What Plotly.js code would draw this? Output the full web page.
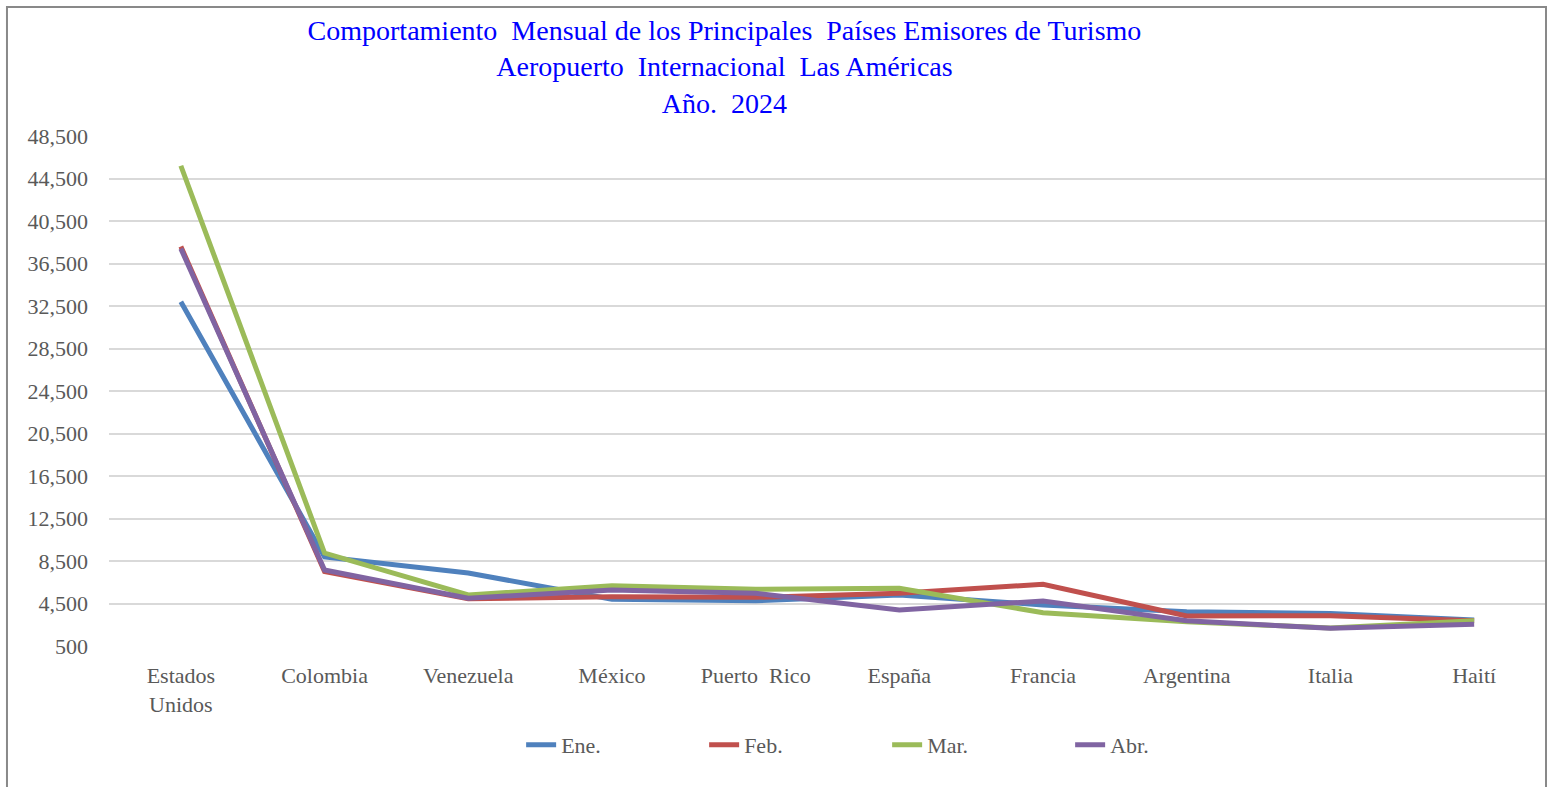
<!DOCTYPE html>
<html>
<head>
<meta charset="utf-8">
<script src="https://cdn.plot.ly/plotly-3.0.1.min.js"></script>
<style>
  html, body { margin: 0; padding: 0; background: #fff; }
  #plot { width: 1552px; height: 787px; }
</style>
</head>
<body>
<div id="plot"></div>
<script>
var paises = ['Estados<br>Unidos', 'Colombia', 'Venezuela', 'México', 'Puerto\u00a0\u00a0Rico',
  'España', 'Francia', 'Argentina', 'Italia', 'Haití'];

var ene = [32900, 8880, 7370, 4900, 4760, 5300, 4360, 3730, 3570, 2950];
var feb = [38100, 7500, 4950, 5140, 5080, 5460, 6310, 3320, 3350, 2880];
var mar = [45700, 9250, 5300, 6170, 5840, 5930, 3630, 2790, 2200, 2880];
var abr = [37900, 7650, 5000, 5770, 5460, 3890, 4740, 2880, 2160, 2540];

var serif = "'Liberation Serif', 'Times New Roman', serif";

function serie(nombre, valores, color) {
  return {
    x: paises,
    y: valores,
    mode: 'lines',
    type: 'scatter',
    name: nombre,
    line: { color: color, width: 5 }
  };
}

var data = [
  serie('Ene.', ene, '#4F81BD'),
  serie('Feb.', feb, '#C0504D'),
  serie('Mar.', mar, '#9BBB59'),
  serie('Abr.', abr, '#8064A2')
];

var layout = {
  width: 1552,
  height: 787,
  margin: { l: 109, r: 6, t: 136, b: 141 },
  paper_bgcolor: '#ffffff',
  plot_bgcolor: '#ffffff',
  title: {
    text: 'Comportamiento\u00a0\u00a0Mensual de los Principales\u00a0\u00a0Países Emisores de Turismo<br>' +
          'Aeropuerto\u00a0\u00a0Internacional\u00a0\u00a0Las Américas<br>Año.\u00a0\u00a02024',
    font: { family: serif, size: 28, color: '#0000FF' },
    xref: 'container', x: 0.4668, xanchor: 'center',
    yref: 'container', y: 1 - 40 / 787, yanchor: 'middle'
  },
  xaxis: {
    type: 'category',
    range: [-0.5, 9.5],
    showgrid: false,
    showline: false,
    zeroline: false,
    ticks: '',
    ticklabelstandoff: 14,
    tickfont: { family: serif, size: 22, color: '#595959' }
  },
  yaxis: {
    range: [500, 48500],
    tickmode: 'linear',
    tick0: 500,
    dtick: 4000,
    tickformat: ',d',
    showgrid: true,
    gridcolor: '#D9D9D9',
    gridwidth: 2,
    zeroline: false,
    showline: false,
    ticks: '',
    ticklabelstandoff: 20,
    tickfont: { family: serif, size: 22, color: '#595959' }
  },
  showlegend: true,
  legend: {
    orientation: 'h',
    x: 0.2868, xanchor: 'left',
    y: -0.194, yanchor: 'middle',
    entrywidth: 138,
    entrywidthmode: 'pixels',
    font: { family: serif, size: 22, color: '#595959' },
    bgcolor: 'rgba(0,0,0,0)'
  },
  shapes: [{
    type: 'rect',
    xref: 'paper', yref: 'paper',
    x0: -0.071, x1: 1.0, y0: -0.31, y1: 1.253,
    line: { color: '#898989', width: 2 },
    fillcolor: 'rgba(0,0,0,0)',
    layer: 'above'
  }]
};

Plotly.newPlot('plot', data, layout, { displayModeBar: false });
</script>
</body>
</html>
